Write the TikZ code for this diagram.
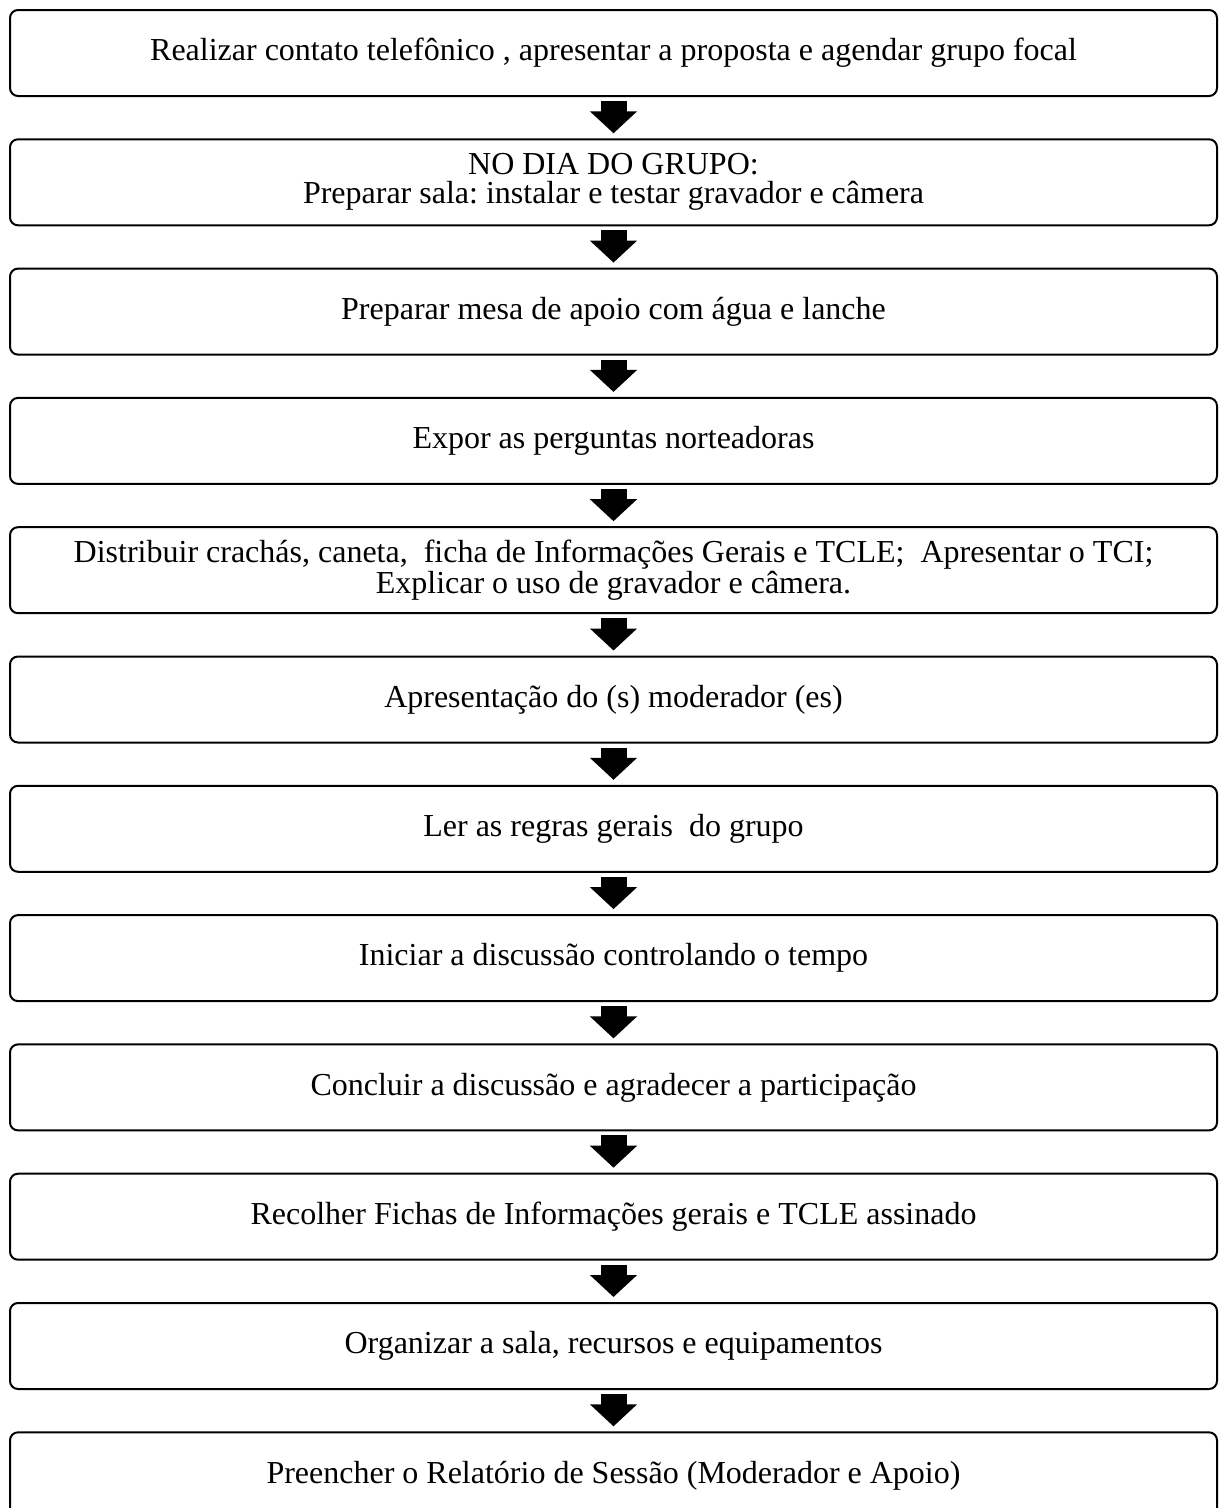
\documentclass[tikz,border=0pt]{standalone}
\usepackage{fontspec}
\setmainfont{Liberation Serif}
\usetikzlibrary{arrows.meta}
\frenchspacing
\tikzset{
  x=1pt, y=-1pt,
  stepbox/.style={draw=black, line width=2pt, rounded corners=8pt, rectangle,
    minimum width=1207pt, minimum height=86pt, inner sep=0pt, align=center,
    font=\fontsize{32}{29}\selectfont},
  blockarrow/.style={draw=black, line width=26pt,
    -{Triangle[width=46pt,length=22pt]}, shorten <=4pt, shorten >=5pt}
}
\begin{document}
\begin{tikzpicture}
\useasboundingbox (0,0) rectangle (1219,1508);
\clip (0,0) rectangle (1219,1508);
\fill[white] (0,0) rectangle (1219,1508);
\node[stepbox] (b1) at (613.5,53) {Realizar contato telefônico , apresentar a proposta e agendar grupo focal};
\node[stepbox] (b2) at (613.5,182.3) {NO DIA DO GRUPO:\\Preparar sala: instalar e testar gravador e câmera};
\node[stepbox] (b3) at (613.5,311.6) {Preparar mesa de apoio com água e lanche};
\node[stepbox] (b4) at (613.5,440.9) {Expor as perguntas norteadoras};
\node[stepbox] (b5) at (613.5,570.2) {Distribuir crachás, caneta,\ \ ficha de Informações Gerais e TCLE;\ \ Apresentar o TCI;\\Explicar o uso de gravador e câmera.};
\node[stepbox] (b6) at (613.5,699.5) {Apresentação do (s) moderador (es)};
\node[stepbox] (b7) at (613.5,828.8) {Ler as regras gerais\ \ do grupo};
\node[stepbox] (b8) at (613.5,958.1) {Iniciar a discussão controlando o tempo};
\node[stepbox] (b9) at (613.5,1087.4) {Concluir a discussão e agradecer a participação};
\node[stepbox] (b10) at (613.5,1216.7) {Recolher Fichas de Informações gerais e TCLE assinado};
\node[stepbox] (b11) at (613.5,1346) {Organizar a sala, recursos e equipamentos};
\node[stepbox] (b12) at (613.5,1475.3) {Preencher o Relatório de Sessão (Moderador e Apoio)};
\foreach \a/\b in {b1/b2,b2/b3,b3/b4,b4/b5,b5/b6,b6/b7,b7/b8,b8/b9,b9/b10,b10/b11,b11/b12}
  \draw[blockarrow] (\a.south) -- (\b.north);
\end{tikzpicture}
\end{document}
